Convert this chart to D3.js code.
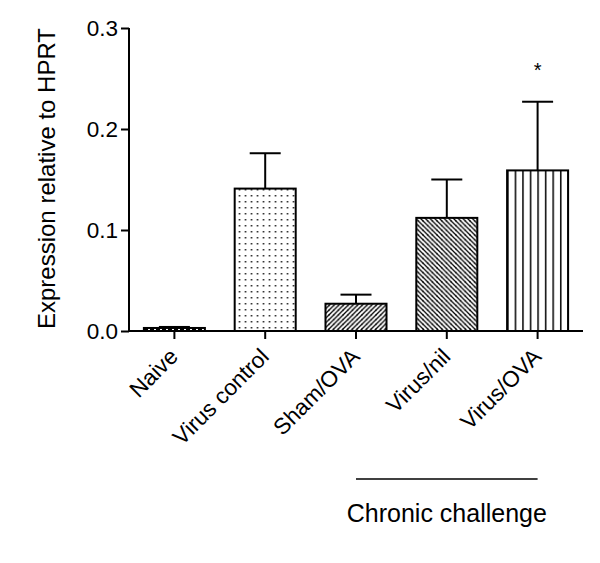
<!DOCTYPE html>
<html>
<head>
<meta charset="utf-8">
<script src="https://cdn.jsdelivr.net/npm/d3@7"></script>
<style>
  html, body { margin: 0; padding: 0; background: #fff; }
  svg { display: block; font-family: "Liberation Sans", Arial, Helvetica, sans-serif; }
</style>
</head>
<body>
<svg id="chart" width="600" height="563"></svg>
<script>
// ---- data ----
const categories = ["Naive", "Virus control", "Sham/OVA", "Virus/nil", "Virus/OVA"];
const means = [0.003, 0.141, 0.027, 0.112, 0.159];
const sems  = [0.001, 0.035, 0.009, 0.038, 0.068];
const patterns = ["dash", "dots", "fwd", "back", "vert"];
const significance = ["", "", "", "", "*"];
const yTicks = [0.0, 0.1, 0.2, 0.3];
const yLabel = "Expression relative to HPRT";
const groupLabel = "Chronic challenge";
const groupMembers = ["Sham/OVA", "Virus/OVA"]; // start/end of bracket line
const groupCenter = "Virus/nil";

// ---- layout ----
const svg = d3.select("#chart");
const mLeft = 129, mRight = 583, mTop = 28, mBottom = 331;

const x = d3.scaleBand().domain(categories).range([mLeft, mRight])
  .paddingInner(0.328).paddingOuter(0.164).align(0.5);
const y = d3.scaleLinear().domain([0, 0.3]).range([mBottom, mTop]);

// ---- patterns ----
const defs = svg.append("defs");
// dots
const pDots = defs.append("pattern").attr("id", "p-dots").attr("patternUnits", "userSpaceOnUse")
  .attr("width", 6).attr("height", 6).attr("x", x("Virus control") + 2).attr("y", 1);
pDots.append("rect").attr("width", 6).attr("height", 6).attr("fill", "#fff");
pDots.append("rect").attr("x", 2).attr("y", 2).attr("width", 1.5).attr("height", 1.5).attr("fill", "#111");
// forward diagonal "/"
const pF = defs.append("pattern").attr("id", "p-fwd").attr("patternUnits", "userSpaceOnUse")
  .attr("width", 4.7).attr("height", 4.7);
pF.append("rect").attr("width", 4.7).attr("height", 4.7).attr("fill", "#fff");
pF.append("path").attr("d", "M-1,1.175 L1.175,-1 M0,4.7 L4.7,0 M3.525,5.7 L5.7,3.525")
  .attr("stroke", "#000").attr("stroke-width", 1.3);
// back diagonal "\"
const pB = defs.append("pattern").attr("id", "p-back").attr("patternUnits", "userSpaceOnUse")
  .attr("width", 4.7).attr("height", 4.7);
pB.append("rect").attr("width", 4.7).attr("height", 4.7).attr("fill", "#fff");
pB.append("path").attr("d", "M-1,3.525 L1.175,5.7 M0,0 L4.7,4.7 M3.525,-1 L5.7,1.175")
  .attr("stroke", "#000").attr("stroke-width", 1.3);
// vertical lines
const pV = defs.append("pattern").attr("id", "p-vert").attr("patternUnits", "userSpaceOnUse")
  .attr("width", 7.55).attr("height", 10).attr("x", x("Virus/OVA"));
pV.append("rect").attr("width", 7.55).attr("height", 10).attr("fill", "#fff");
pV.append("line").attr("x1", 0.8).attr("x2", 0.8).attr("y1", 0).attr("y2", 10)
  .attr("stroke", "#000").attr("stroke-width", 1.5);
// dashes (Naive)
const pD = defs.append("pattern").attr("id", "p-dash").attr("patternUnits", "userSpaceOnUse")
  .attr("width", 6).attr("height", 3);
pD.append("rect").attr("width", 6).attr("height", 3).attr("fill", "#000");
pD.append("rect").attr("x", 4).attr("width", 2).attr("height", 3).attr("fill", "#fff");

// ---- bars ----
svg.append("g").selectAll("rect").data(categories).join("rect")
  .attr("x", d => x(d))
  .attr("width", x.bandwidth())
  .attr("y", (d, i) => y(means[i]))
  .attr("height", (d, i) => y(0) - y(means[i]))
  .attr("fill", (d, i) => `url(#p-${patterns[i]})`)
  .attr("stroke", "#000").attr("stroke-width", 2);

// ---- error bars ----
const capHalf = 15.5;
const eb = svg.append("g").attr("stroke", "#000").attr("stroke-width", 2);
categories.forEach((c, i) => {
  const cx = x(c) + x.bandwidth() / 2;
  eb.append("line").attr("x1", cx).attr("x2", cx)
    .attr("y1", y(means[i])).attr("y2", y(means[i] + sems[i]));
  eb.append("line").attr("x1", cx - capHalf).attr("x2", cx + capHalf)
    .attr("y1", y(means[i] + sems[i])).attr("y2", y(means[i] + sems[i]));
});

// ---- significance ----
svg.append("g").selectAll("text").data(categories).join("text")
  .attr("x", d => x(d) + x.bandwidth() / 2)
  .attr("y", (d, i) => y(means[i] + sems[i]) - 25)
  .attr("text-anchor", "middle")
  .attr("font-size", 20)
  .text((d, i) => significance[i]);

// ---- axes ----
const yAxis = svg.append("g").attr("transform", `translate(${mLeft},0)`)
  .call(d3.axisLeft(y).tickValues(yTicks).tickFormat(d3.format(".1f")).tickSize(8).tickPadding(3));
yAxis.select(".domain").attr("stroke-width", 2).attr("d", `M0,${mTop}V${mBottom}`);
yAxis.selectAll(".tick line").attr("stroke-width", 2);
yAxis.selectAll(".tick text").attr("font-size", 22.5).attr("fill", "#000")
  .attr("font-family", "Liberation Sans, Arial, sans-serif");

const xAxis = svg.append("g").attr("transform", `translate(0,${mBottom})`)
  .call(d3.axisBottom(x).tickSize(8).tickFormat(""));
xAxis.select(".domain").attr("stroke-width", 2).attr("d", `M${mLeft},0H${mRight}`);
xAxis.selectAll(".tick line").attr("stroke-width", 2);

// rotated category labels
svg.append("g").selectAll("text").data(categories).join("text")
  .attr("transform", d => `translate(${x(d) + x.bandwidth() / 2 + 5},${mBottom + 27}) rotate(-45)`)
  .attr("text-anchor", "end")
  .attr("font-size", 22.5)
  .attr("fill", "#000")
  .text(d => d);

// y label
svg.append("text")
  .attr("transform", `translate(55,${(mTop + mBottom) / 2 - 1}) rotate(-90)`)
  .attr("text-anchor", "middle")
  .attr("font-size", 24)
  .attr("fill", "#000")
  .text(yLabel);

// group bracket
const gx1 = x(groupMembers[0]) + x.bandwidth() / 2;
const gx2 = x(groupMembers[1]) + x.bandwidth() / 2;
svg.append("line").attr("x1", gx1).attr("x2", gx2).attr("y1", 479).attr("y2", 479)
  .attr("stroke", "#000").attr("stroke-width", 1.5);
svg.append("text")
  .attr("x", x(groupCenter) + x.bandwidth() / 2)
  .attr("y", 522)
  .attr("text-anchor", "middle")
  .attr("font-size", 25)
  .attr("fill", "#000")
  .text(groupLabel);
</script>
</body>
</html>
